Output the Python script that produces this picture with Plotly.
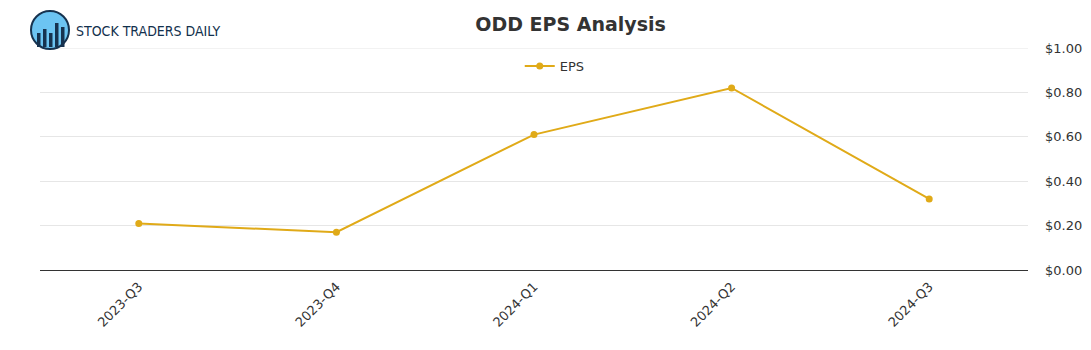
import plotly.graph_objects as go

quarters = ["2023-Q3", "2023-Q4", "2024-Q1", "2024-Q2", "2024-Q3"]
eps = [0.21, 0.17, 0.61, 0.82, 0.32]
y_ticks = [0, 0.2, 0.4, 0.6, 0.8, 1.0]
y_tick_labels = ["$0.00", "$0.20", "$0.40", "$0.60", "$0.80", "$1.00"]

W, H = 1091, 350
L, R, T, B = 40, 63, 48, 80
PW, PH = W - L - R, H - T - B

def px(x):
    return (x - L) / PW

def py(y):
    return (H - B - y) / PH

fig = go.Figure()
fig.add_trace(go.Scatter(
    x=quarters, y=eps, mode="lines+markers", name="EPS",
    line=dict(color="#E0AA18", width=2),
    marker=dict(color="#E0AA18", size=7),
))

shapes = []
# logo circle
shapes.append(dict(type="circle", xref="paper", yref="paper",
                   x0=px(31), x1=px(69), y0=py(49), y1=py(11),
                   fillcolor="#6CC4F2", line=dict(color="#16324F", width=2)))
for bx, top in [(37, 33), (43, 29), (49, 33), (55, 23), (61, 27)]:
    shapes.append(dict(type="rect", xref="paper", yref="paper",
                       x0=px(bx), x1=px(bx + 3.5), y0=py(47), y1=py(top),
                       fillcolor="#16324F", line=dict(width=0)))
# top gridline at $1.00
shapes.append(dict(type="line", xref="paper", yref="y", x0=0, x1=1, y0=1.0, y1=1.0,
                   line=dict(color="#E6E6E6", width=1), layer="below"))

fig.update_layout(
    width=W, height=H,
    margin=dict(l=L, r=R, t=T, b=B),
    paper_bgcolor="white", plot_bgcolor="white",
    font=dict(family="DejaVu Sans", size=13, color="#333333"),
    title=dict(text="<b>ODD EPS Analysis</b>", x=0.523, xanchor="center",
               y=1 - 24 / H, yanchor="middle",
               font=dict(family="DejaVu Sans", size=19, color="#333333")),
    showlegend=True,
    legend=dict(orientation="h", x=0.521, xanchor="center", y=py(66), yanchor="middle",
                font=dict(size=13, color="#333333"), bgcolor="rgba(0,0,0,0)"),
    xaxis=dict(type="category", range=[-0.5, 4.5], tickangle=-45, automargin=False,
               showgrid=False, showline=True, linecolor="#333333", linewidth=1,
               ticks="", ticklabelstandoff=3, tickfont=dict(size=13, color="#333333")),
    yaxis=dict(side="right", range=[0, 1.0], tickvals=y_ticks, ticktext=y_tick_labels,
               automargin=False,
               showgrid=True, gridcolor="#E6E6E6", gridwidth=1,
               zeroline=False, showline=False, ticks="", ticklabelstandoff=16,
               tickfont=dict(size=13, color="#333333")),
    shapes=shapes,
    annotations=[dict(text="STOCK TRADERS DAILY", xref="paper", yref="paper",
                      x=px(74), y=py(31), xanchor="left", yanchor="middle",
                      showarrow=False,
                      font=dict(family="DejaVu Sans Condensed", size=14, color="#12304D"))],
)

fig.write_html("out.html")
